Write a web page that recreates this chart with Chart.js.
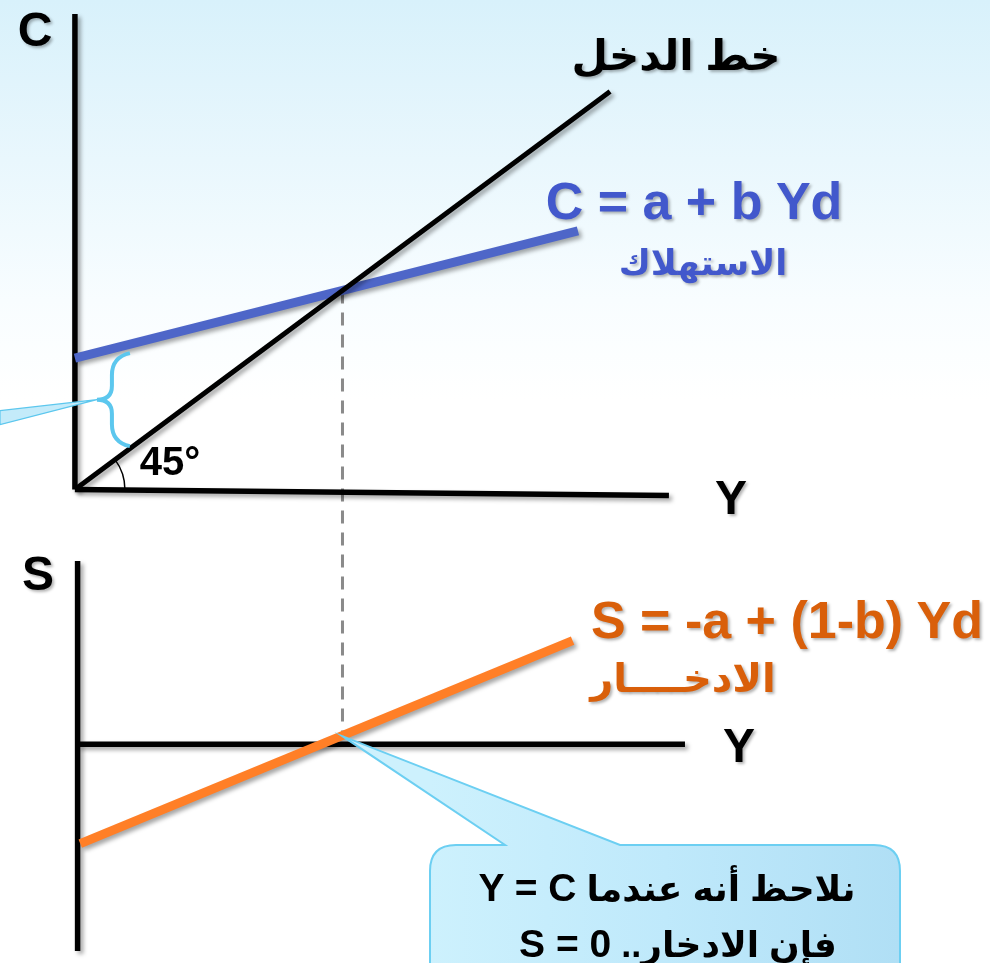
<!DOCTYPE html>
<html lang="ar">
<head>
<meta charset="utf-8">
<title>الاستهلاك والادخار</title>
<script src="https://cdn.jsdelivr.net/npm/chart.js@4.4.1/dist/chart.umd.min.js"></script>
<style>
  html, body { margin: 0; padding: 0; }
  body {
    width: 990px; height: 963px; overflow: hidden; position: relative;
    background: linear-gradient(to bottom, #d8f1fb 0px, #e9f7fd 160px, #f8fdff 300px, #ffffff 400px);
    font-family: "Liberation Sans", Arial, "DejaVu Sans", sans-serif;
    font-weight: bold;
  }
  #chart { position: absolute; left: 0; top: 0; }
  .lbl {
    position: absolute; transform: translate(-50%, -50%);
    white-space: nowrap; line-height: 1;
    text-shadow: 2px 2px 3px rgba(0, 0, 0, 0.3);
  }
  .ax { font-size: 48px; color: #000; }
  .blue { color: #4258cc; }
  .orange { color: #d95f0a; }
  .lat { font-size: 39px; }
</style>
</head>
<body>
<canvas id="chart" width="990" height="963"></canvas>

<div class="lbl ax" style="left:35px; top:30px;">C</div>
<div class="lbl ax" style="left:731px; top:498px;">Y</div>
<div class="lbl ax" style="left:38px; top:574px;">S</div>
<div class="lbl ax" style="left:739px; top:746px;">Y</div>
<div class="lbl" dir="rtl" style="left:676px; top:56px; font-size:42px;">خط الدخل</div>
<div class="lbl blue" style="left:694px; top:201px; font-size:52px;">C = a + b Yd</div>
<div class="lbl blue" dir="rtl" style="left:703px; top:262px; font-size:35px;">الاستهلاك</div>
<div class="lbl orange" style="left:787px; top:620px; font-size:52px;">S = -a + (1-b) Yd</div>
<div class="lbl orange" dir="rtl" style="left:683px; top:678px; font-size:40px;">الادخــــار</div>
<div class="lbl" style="left:170px; top:461px; font-size:40px; text-shadow:none;">45°</div>
<div class="lbl" dir="rtl" style="left:667px; top:887px; font-size:36px; text-shadow:none;">نلاحظ أنه عندما <span class="lat">Y = C</span></div>
<div class="lbl" dir="rtl" style="left:678px; top:943px; font-size:36px; text-shadow:none;">فإن الادخار.. <span class="lat">S = 0</span></div>

<script>
// income Y on the x axis, consumption C (top panel) and saving S (bottom panel)
const incomeY = [0, 10];
const incomeC = [0, 10];          // 45 degree line, C = Y

const consumpY = [0, 9.4];
const consumpC = [3.3, 6.5];      // C = a + b Yd

const savingY = [0.1, 9.3];
const savingS = [-2.5, 2.6];      // S = -a + (1-b) Yd

// axis lines of both panels
const cAxisY = [0, 0];
const cAxisC = [0, 11.95];
const topYAxisY = [0, 11.1];
const topYAxisC = [0, -0.15];
const sAxisY = [0.05, 0.05];
const sAxisS = [4.6, -5.2];
const botYAxisY = [0.05, 11.4];
const botYAxisS = [0, 0];

// where C = Y, and where the guide meets the saving line
const eqY = 5.0;
const eqC = 5.0;
const eqS = 0.2;

const pts = (xs, ys) => xs.map((x, i) => ({ x: x, y: ys[i] }));

function lineSet(xs, ys, axis, color, width) {
  return {
    data: pts(xs, ys),
    yAxisID: axis,
    borderColor: color,
    borderWidth: width,
    showLine: true,
    pointRadius: 0,
    fill: false,
    borderCapStyle: 'butt'
  };
}

const shadowPlugin = {
  id: 'lineShadow',
  beforeDatasetDraw(chart) {
    const ctx = chart.ctx;
    ctx.save();
    ctx.shadowColor = 'rgba(0,0,0,0.35)';
    ctx.shadowBlur = 4;
    ctx.shadowOffsetX = 3;
    ctx.shadowOffsetY = 3;
  },
  afterDatasetDraw(chart) {
    chart.ctx.restore();
  }
};

// dashed guide from C = Y down to the saving line
const guidePlugin = {
  id: 'guide',
  beforeDatasetsDraw(chart) {
    const ctx = chart.ctx;
    const x = chart.scales.x.getPixelForValue(eqY);
    const y1 = chart.scales.c.getPixelForValue(eqC);
    const y2 = chart.scales.s.getPixelForValue(eqS);
    ctx.save();
    ctx.strokeStyle = '#8a8a8a';
    ctx.lineWidth = 3;
    ctx.setLineDash([13, 9]);
    ctx.beginPath();
    ctx.moveTo(x, y1);
    ctx.lineTo(x, y2);
    ctx.stroke();
    ctx.restore();
  }
};

const notesPlugin = {
  id: 'notes',
  afterDatasetsDraw(chart) {
    const ctx = chart.ctx;
    const xs = chart.scales.x, cs = chart.scales.c, ss = chart.scales.s;

    // 45 degree arc at the origin
    const ox = xs.getPixelForValue(0), oy = cs.getPixelForValue(0);
    const ang = Math.atan2(cs.getPixelForValue(incomeC[1]) - oy, xs.getPixelForValue(incomeY[1]) - ox);
    ctx.save();
    ctx.strokeStyle = '#000';
    ctx.lineWidth = 1.5;
    ctx.beginPath();
    ctx.arc(ox, oy, 50, ang, 0);
    ctx.stroke();
    ctx.restore();

    // brace marking the intercept a, with a pointer going off the left edge
    const bTop = cs.getPixelForValue(consumpC[0]) - 5;
    const bBot = bTop + 93;
    const bMid = (bTop + bBot) / 2;
    const bx = ox + 55;
    ctx.save();
    ctx.fillStyle = '#c4ebfa';
    ctx.strokeStyle = '#5cc7ee';
    ctx.lineWidth = 1.2;
    ctx.beginPath();
    ctx.moveTo(bx - 33, bMid);
    ctx.lineTo(0, bMid + 11);
    ctx.lineTo(0, bMid + 25);
    ctx.closePath();
    ctx.fill();
    ctx.stroke();
    ctx.lineWidth = 4;
    ctx.beginPath();
    ctx.moveTo(bx, bTop);
    ctx.quadraticCurveTo(bx - 18, bTop + 4, bx - 18, bTop + 22);
    ctx.lineTo(bx - 18, bMid - 14);
    ctx.quadraticCurveTo(bx - 18, bMid, bx - 33, bMid);
    ctx.quadraticCurveTo(bx - 18, bMid, bx - 18, bMid + 14);
    ctx.lineTo(bx - 18, bBot - 22);
    ctx.quadraticCurveTo(bx - 18, bBot - 4, bx, bBot);
    ctx.stroke();
    ctx.restore();

    // speech bubble pointing at the point where S = 0
    const tx = xs.getPixelForValue(eqY), ty = ss.getPixelForValue(eqS);
    const L = 430, R = 900, T = 845, B = 1000, r = 26;
    const g = ctx.createLinearGradient(L, 0, R, 0);
    g.addColorStop(0, '#cdf1fd');
    g.addColorStop(0.5, '#bfe9fb');
    g.addColorStop(1, '#b0dff5');
    ctx.save();
    ctx.beginPath();
    ctx.moveTo(L + r, T);
    ctx.lineTo(505, T);
    ctx.lineTo(tx, ty);
    ctx.lineTo(620, T);
    ctx.lineTo(R - r, T);
    ctx.quadraticCurveTo(R, T, R, T + r);
    ctx.lineTo(R, B);
    ctx.lineTo(L, B);
    ctx.lineTo(L, T + r);
    ctx.quadraticCurveTo(L, T, L + r, T);
    ctx.closePath();
    ctx.fillStyle = g;
    ctx.fill();
    ctx.strokeStyle = '#6ccff2';
    ctx.lineWidth = 2;
    ctx.stroke();
    ctx.restore();
  }
};

new Chart(document.getElementById('chart'), {
  type: 'scatter',
  data: {
    datasets: [
      lineSet(incomeY, incomeC, 'c', '#000000', 5),
      lineSet(consumpY, consumpC, 'c', '#4e66c8', 9),
      lineSet(savingY, savingS, 's', '#ff7f27', 9),
      lineSet(cAxisY, cAxisC, 'c', '#000000', 5.5),
      lineSet(topYAxisY, topYAxisC, 'c', '#000000', 5.5),
      lineSet(sAxisY, sAxisS, 's', '#000000', 5.5),
      lineSet(botYAxisY, botYAxisS, 's', '#000000', 5.5)
    ]
  },
  options: {
    responsive: false,
    animation: false,
    events: [],
    layout: { padding: 0 },
    plugins: { legend: { display: false }, tooltip: { enabled: false } },
    scales: {
      x: { type: 'linear', min: -1.4, max: 17.1, display: false },
      c: { type: 'linear', position: 'left', min: -11.9, max: 12.3, display: false },
      s: { type: 'linear', position: 'right', min: -5.5, max: 18.7, display: false }
    }
  },
  plugins: [shadowPlugin, guidePlugin, notesPlugin]
});
</script>
</body>
</html>
